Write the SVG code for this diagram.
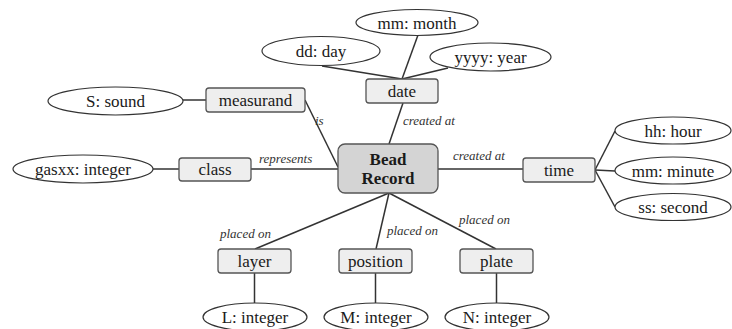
<svg xmlns="http://www.w3.org/2000/svg" width="732" height="329" viewBox="0 0 732 329">
<style>
.bg{fill:#ffffff}
.box{fill:#eeeeee;stroke:#555555;stroke-width:1.3}
.main{fill:#d4d4d4;stroke:#555555;stroke-width:1.3}
.ell{fill:#ffffff;stroke:#333333;stroke-width:1.2}
text{font-family:'Liberation Serif','Times New Roman','Noto Serif','DejaVu Serif',serif}
.t{font-size:17px;fill:#1a1a1a;text-anchor:middle}
.tb{font-size:17px;font-weight:bold;fill:#1a1a1a;text-anchor:middle}
.lab{font-size:13px;font-style:italic;fill:#333333}
.edge{stroke:#333333;stroke-width:1.5;fill:none}
</style>
<rect class="bg" x="0" y="0" width="732" height="329"/>
<g id="connectors">
<line class="edge" x1="183" y1="100" x2="206" y2="100"/>
<line class="edge" x1="305" y1="100" x2="338" y2="167"/>
<line class="edge" x1="322" y1="66" x2="402" y2="79"/>
<line class="edge" x1="418" y1="35" x2="402" y2="79"/>
<line class="edge" x1="448" y1="68" x2="402" y2="79"/>
<line class="edge" x1="403" y1="103" x2="389" y2="144"/>
<line class="edge" x1="153" y1="169" x2="179" y2="169"/>
<line class="edge" x1="251" y1="169" x2="338" y2="169"/>
<line class="edge" x1="438" y1="169" x2="523" y2="169"/>
<line class="edge" x1="595" y1="170" x2="615" y2="131"/>
<line class="edge" x1="595" y1="170" x2="615" y2="171"/>
<line class="edge" x1="595" y1="170" x2="615" y2="207"/>
<line class="edge" x1="389" y1="193" x2="255" y2="249"/>
<line class="edge" x1="389" y1="193" x2="376" y2="249"/>
<line class="edge" x1="389" y1="193" x2="496" y2="249"/>
<line class="edge" x1="254.5" y1="273" x2="254.5" y2="303"/>
<line class="edge" x1="375.5" y1="273" x2="375.5" y2="303"/>
<line class="edge" x1="496.5" y1="273" x2="496.5" y2="303"/>
<text class="lab" x="315" y="125">is</text>
<text class="lab" x="403" y="125">created at</text>
<text class="lab" x="259" y="163">represents</text>
<text class="lab" x="453" y="160">created at</text>
<text class="lab" x="220" y="238">placed on</text>
<text class="lab" x="387" y="235">placed on</text>
<text class="lab" x="459" y="224">placed on</text>
</g>
<g id="bead-record"><rect class="main" x="338" y="144" width="100" height="49" rx="7"/><text class="tb" x="388" y="165">Bead</text><text class="tb" x="388" y="184">Record</text></g>
<g id="measurand"><rect class="box" x="206" y="88" width="99" height="24" rx="3"/><text class="t" x="255.5" y="106">measurand</text></g>
<g id="s-sound"><ellipse class="ell" cx="115.5" cy="101" rx="67.5" ry="14"/><text class="t" x="115.5" y="107">S: sound</text></g>
<g id="date"><rect class="box" x="366" y="79" width="72" height="24" rx="3"/><text class="t" x="402" y="97">date</text></g>
<g id="dd-day"><ellipse class="ell" cx="321" cy="51" rx="59" ry="14.5"/><text class="t" x="321" y="57">dd: day</text></g>
<g id="mm-month"><ellipse class="ell" cx="417" cy="22.5" rx="61" ry="13"/><text class="t" x="417" y="28.5">mm: month</text></g>
<g id="yyyy-year"><ellipse class="ell" cx="490.5" cy="57" rx="60.5" ry="14"/><text class="t" x="490.5" y="63">yyyy: year</text></g>
<g id="class"><rect class="box" x="179" y="158" width="72" height="23" rx="3"/><text class="t" x="215" y="175">class</text></g>
<g id="gasxx-integer"><ellipse class="ell" cx="83" cy="169" rx="70" ry="14"/><text class="t" x="83" y="175">gasxx: integer</text></g>
<g id="time"><rect class="box" x="523" y="158" width="72" height="24" rx="3"/><text class="t" x="559" y="176">time</text></g>
<g id="hh-hour"><ellipse class="ell" cx="673" cy="130.5" rx="58" ry="13.5"/><text class="t" x="673" y="136.5">hh: hour</text></g>
<g id="mm-minute"><ellipse class="ell" cx="673" cy="170.5" rx="58" ry="13.5"/><text class="t" x="673" y="176.5">mm: minute</text></g>
<g id="ss-second"><ellipse class="ell" cx="673" cy="207" rx="58" ry="13.5"/><text class="t" x="673" y="213">ss: second</text></g>
<g id="layer"><rect class="box" x="218" y="249" width="73" height="24" rx="3"/><text class="t" x="254.5" y="267">layer</text></g>
<g id="position"><rect class="box" x="339" y="249" width="73" height="24" rx="3"/><text class="t" x="375.5" y="267">position</text></g>
<g id="plate"><rect class="box" x="460" y="249" width="73" height="24" rx="3"/><text class="t" x="496.5" y="267">plate</text></g>
<g id="l-integer"><ellipse class="ell" cx="255" cy="317" rx="52" ry="14"/><text class="t" x="255" y="323">L: integer</text></g>
<g id="m-integer"><ellipse class="ell" cx="376" cy="317" rx="52" ry="14"/><text class="t" x="376" y="323">M: integer</text></g>
<g id="n-integer"><ellipse class="ell" cx="497" cy="317" rx="52" ry="14"/><text class="t" x="497" y="323">N: integer</text></g>
</svg>
